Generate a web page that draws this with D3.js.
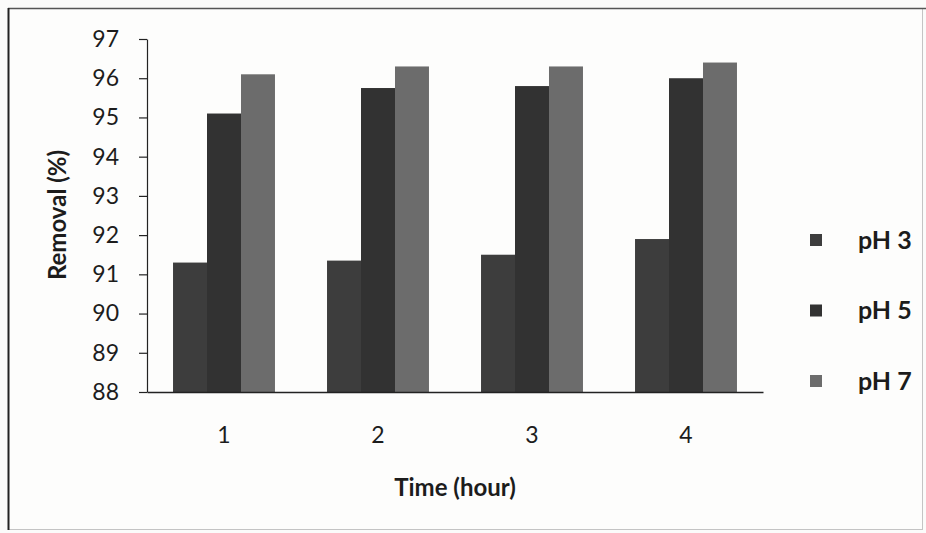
<!DOCTYPE html>
<html>
<head>
<meta charset="utf-8">
<script src="https://cdn.jsdelivr.net/npm/d3@7"></script>
<style>
  body { margin: 0; background: #fbfbfa; }
  svg { display: block; }
  text { font-family: Lato, "Open Sans", sans-serif; fill: #1c1c1c; }
</style>
</head>
<body>
<svg width="926" height="533"></svg>
<script>
// chart data
var hours = ["1", "2", "3", "4"];
var seriesNames = ["pH 3", "pH 5", "pH 7"];
var ph3 = [91.3, 91.35, 91.5, 91.9];
var ph5 = [95.1, 95.75, 95.8, 96.0];
var ph7 = [96.1, 96.3, 96.3, 96.4];
var yTicks = [88, 89, 90, 91, 92, 93, 94, 95, 96, 97];

var seriesValues = [ph3, ph5, ph7];
var colours = ["#3d3d3d", "#323232", "#6c6c6c"];

var svg = d3.select("svg"),
    width = +svg.attr("width"),
    height = +svg.attr("height");

var plot = { left: 147, right: 763, top: 39, bottom: 392 };

// outer frame of the figure: faint right/bottom, darker top, heavy left
svg.append("rect")
    .attr("x", 8.5).attr("y", 8.5)
    .attr("width", 914).attr("height", 521)
    .attr("fill", "#fdfdfc")
    .attr("stroke", "#c4c4c4")
    .attr("stroke-width", 1);
svg.append("line")
    .attr("x1", 8).attr("x2", 926)
    .attr("y1", 8.5).attr("y2", 8.5)
    .attr("stroke", "#555")
    .attr("stroke-width", 1.3);
svg.append("line")
    .attr("x1", 8.5).attr("x2", 8.5)
    .attr("y1", 8).attr("y2", 530)
    .attr("stroke", "#222")
    .attr("stroke-width", 2);

// scales
var x0 = d3.scaleBand()
    .domain(hours)
    .range([plot.left, plot.right])
    .paddingInner(0.338)
    .paddingOuter(0.169);

var x1 = d3.scaleBand()
    .domain(seriesNames)
    .range([0, x0.bandwidth()]);

var y = d3.scaleLinear()
    .domain([88, 97])
    .range([plot.bottom, plot.top]);

// bars
var groups = svg.append("g")
    .selectAll("g")
    .data(hours)
    .enter().append("g")
    .attr("transform", d => "translate(" + x0(d) + ",0)");

groups.selectAll("rect")
    .data((d, i) => seriesNames.map((s, k) => ({ name: s, value: seriesValues[k][i], k: k })))
    .enter().append("rect")
    .attr("x", d => x1(d.name))
    .attr("width", x1.bandwidth())
    .attr("y", d => y(d.value))
    .attr("height", d => y(88) - y(d.value))
    .attr("fill", d => colours[d.k]);

// y axis
var yAxis = svg.append("g")
    .attr("transform", "translate(" + plot.left + ",0)")
    .call(d3.axisLeft(y).tickValues(yTicks).tickSize(8).tickSizeOuter(0).tickPadding(20));
yAxis.select(".domain").attr("stroke", "#222").attr("stroke-width", 1.2);
yAxis.selectAll(".tick line").attr("stroke", "#222").attr("stroke-width", 1.2);
yAxis.selectAll(".tick text")
    .attr("font-size", 23)
    .attr("font-family", "Lato, sans-serif")
    .attr("fill", "#1c1c1c");

// x axis
var xAxis = svg.append("g")
    .attr("transform", "translate(0," + plot.bottom + ")")
    .call(d3.axisBottom(x0).tickSize(0).tickPadding(35));
xAxis.select(".domain").attr("stroke", "#222").attr("stroke-width", 1.5);
xAxis.selectAll(".tick text")
    .attr("font-size", 23)
    .attr("font-family", "Lato, sans-serif")
    .attr("fill", "#1c1c1c");

// axis titles
svg.append("text")
    .attr("x", (plot.left + plot.right) / 2)
    .attr("y", 496)
    .attr("text-anchor", "middle")
    .attr("font-size", 24)
    .attr("font-weight", "bold")
    .text("Time (hour)");

svg.append("text")
    .attr("transform", "translate(66,215) rotate(-90)")
    .attr("text-anchor", "middle")
    .attr("font-size", 24)
    .attr("font-weight", "bold")
    .text("Removal (%)");

// legend
var legend = svg.append("g")
    .selectAll("g")
    .data(seriesNames)
    .enter().append("g")
    .attr("transform", (d, i) => "translate(810," + (240 + i * 70.5) + ")");

legend.append("rect")
    .attr("x", 0).attr("y", -6)
    .attr("width", 12).attr("height", 12)
    .attr("fill", (d, i) => colours[i]);

legend.append("text")
    .attr("x", 48)
    .attr("y", 0)
    .attr("dy", "0.35em")
    .attr("font-size", 25)
    .attr("font-weight", "bold")
    .text(d => d);
</script>
</body>
</html>
